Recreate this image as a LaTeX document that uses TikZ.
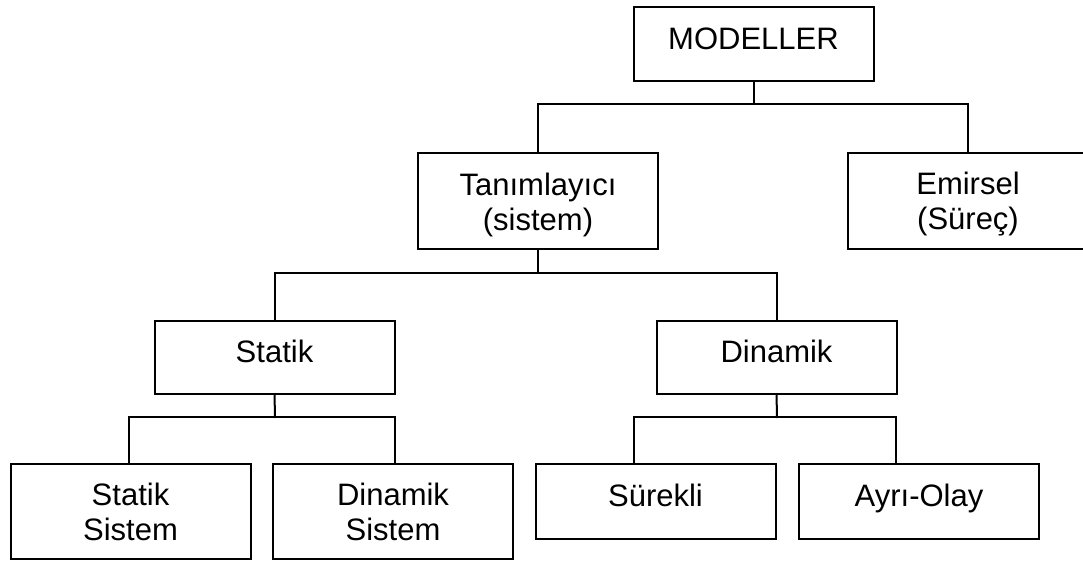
\documentclass[tikz,border=0pt]{standalone}
\usepackage{fontspec}
\setmainfont{Liberation Sans}
\begin{document}
\begin{tikzpicture}[x=1pt,y=-1pt,
  box/.style={draw=black, line width=2pt, rectangle, align=center,
    inner sep=0pt, outer sep=0pt, minimum width=240pt,
    font=\fontsize{31}{35}\selectfont},
  oneline/.style={box, text height=22pt, text depth=12pt},
  link/.style={draw=black, line width=2pt, line cap=rect}]
  \useasboundingbox (0,0) rectangle (1083,562);
  \clip (0,0) rectangle (1083,562);

  % root
  \node[oneline, minimum height=74pt] (M) at (753.5,44) {MODELLER};

  % second level
  \node[box, minimum height=96pt] (T) at (538,201)
    {\rule{0pt}{29.5pt}Tanımlayıcı\\(sistem)};
  \node[box, minimum height=96pt] (E) at (968,201)
    {\rule{0pt}{29.5pt}Emirsel\\(Süreç)};

  % third level
  \node[oneline, minimum height=73pt] (S) at (274.5,357.5) {Statik};
  \node[oneline, minimum height=73pt] (D) at (776.5,357.5) {Dinamik};

  % leaves
  \node[box, minimum height=95pt] (SS) at (130.5,511.5) {Statik\\Sistem};
  \node[box, minimum height=95pt] (DS) at (393,511.5) {Dinamik\\Sistem};
  \node[oneline, minimum height=75pt] (SU) at (655.5,501.5) {Sürekli};
  \node[oneline, minimum height=75pt] (AO) at (919,501.5) {Ayrı-Olay};

  % bus junctions
  \coordinate (b1) at (753.5,104);
  \coordinate (b2) at (538,273);
  \coordinate (b3) at (275,417);
  \coordinate (b4) at (777,417);

  % connectors
  \draw[link] (M.south) -- (b1);
  \draw[link] (T.north) |- (b1) -| (E.north);
  \draw[link] (T.south) -- (b2);
  \draw[link] (S.north) |- (b2) -| (D.north);
  \draw[link] (S.south) -- (b3);
  \draw[link] ([xshift=-1.5pt]SS.north) |- (b3) -| ([xshift=2pt]DS.north);
  \draw[link] (D.south) -- (b4);
  \draw[link] ([xshift=-22pt]SU.north) |- (b4) -| ([xshift=-23pt]AO.north);
\end{tikzpicture}
\end{document}
